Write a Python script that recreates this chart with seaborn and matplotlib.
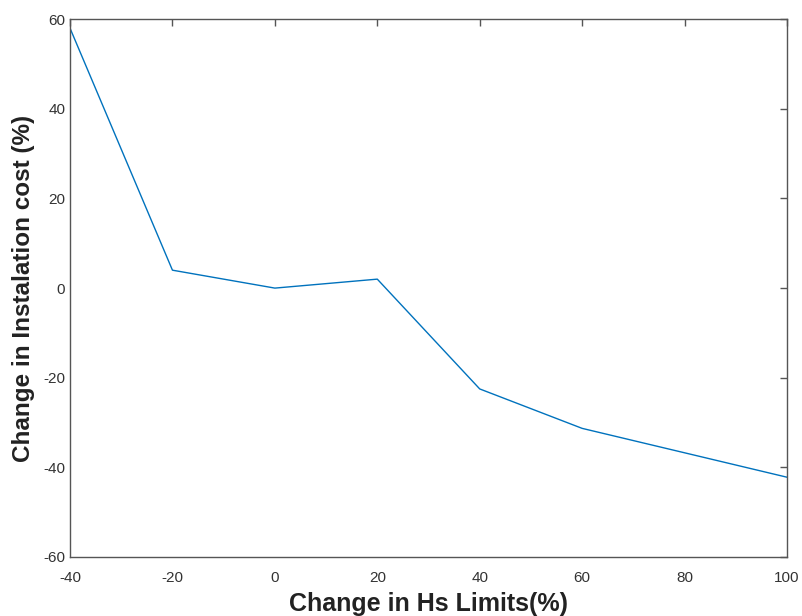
import matplotlib
matplotlib.use("Agg")
import matplotlib.pyplot as plt
import seaborn as sns
import pandas as pd

# Values
hs_change = [-40, -20, 0, 20, 40, 60, 100]
cost_change = [58, 4, 0, 2, -22.5, -31.3, -42.2]

df = pd.DataFrame({"hs": hs_change, "cost": cost_change})

sns.set_style("white")
plt.rcParams['font.family'] = ['Liberation Sans', 'DejaVu Sans']
plt.rcParams['axes.unicode_minus'] = False

fig = plt.figure(figsize=(8.02, 6.16), dpi=100)
ax = fig.add_axes([0.0873, 0.0958, 0.894, 0.873])

sns.lineplot(data=df, x="hs", y="cost", color="#0072BD", linewidth=1.0, ax=ax)

ax.set_xlim(-40, 100)
ax.set_ylim(-60, 60)
ax.set_xticks(range(-40, 101, 20))
ax.set_yticks(range(-60, 61, 20))

for s in ax.spines.values():
    s.set_color("#555555")
    s.set_linewidth(1.0)
ax.tick_params(direction="in", length=5, width=1, colors="#555555",
               labelcolor="#333333", labelsize=11, top=True, right=True)
ax.tick_params(axis="x", pad=10)

ax.set_xlabel("Change in Hs Limits(%)", fontsize=18, fontweight="bold", color="#222222", labelpad=5)
ax.set_ylabel("Change in Instalation cost (%)", fontsize=17.5, fontweight="bold", color="#222222", labelpad=6)

fig.savefig("out.png", dpi=100)
